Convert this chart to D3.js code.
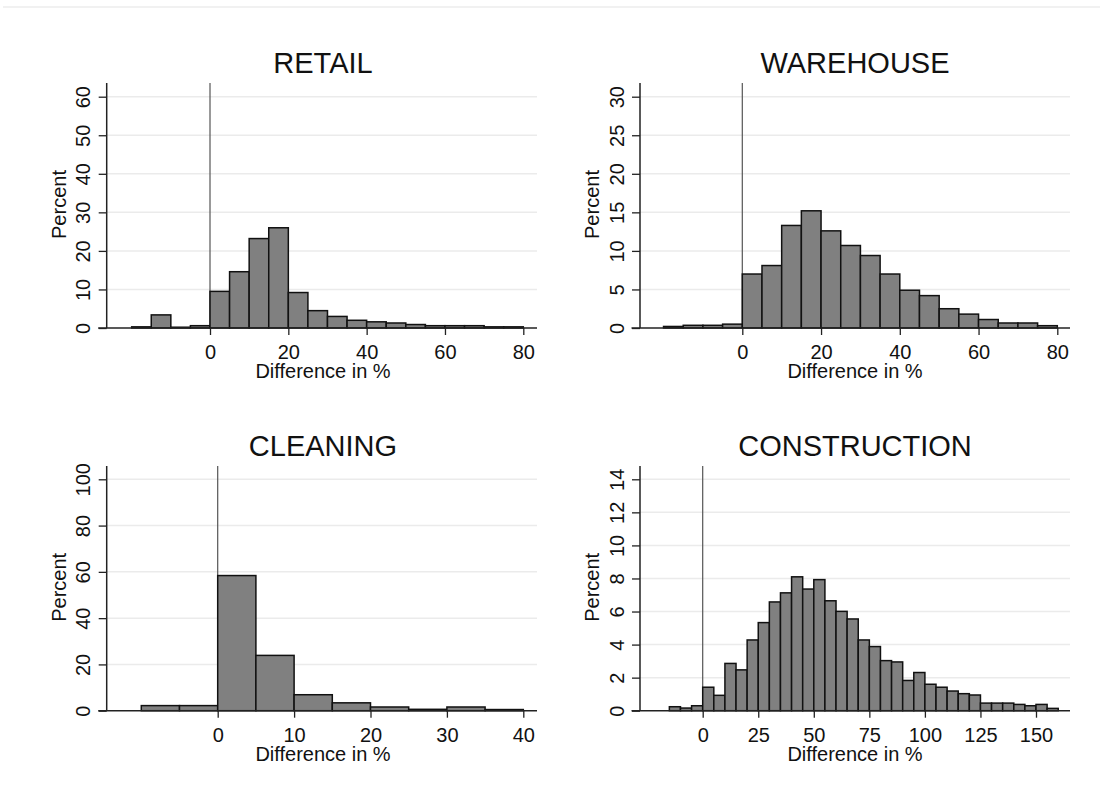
<!DOCTYPE html>
<html>
<head>
<meta charset="utf-8">
<script src="https://cdn.jsdelivr.net/npm/d3@7"></script>
<style>
  body { margin: 0; background: #fff; }
  text { font-family: "Liberation Sans", Arial, sans-serif; fill: #111; }
</style>
</head>
<body>
<div id="chart"></div>
<script>
// bins are 5 points wide, first bin starts at binStart
var binWidth = 5;

var retailStart = -20;
var retailPct = [0.3, 3.4, 0.2, 0.6, 9.5, 14.6, 23.2, 26.0, 9.2, 4.5, 3.0, 2.0, 1.6, 1.3, 0.9, 0.6, 0.6, 0.6, 0.3, 0.3];
var retailTicksX = [0, 20, 40, 60, 80];
var retailTicksY = [0, 10, 20, 30, 40, 50, 60];

var warehouseStart = -20;
var warehousePct = [0.2, 0.35, 0.35, 0.5, 7.0, 8.1, 13.3, 15.2, 12.6, 10.7, 9.4, 7.0, 4.9, 4.2, 2.5, 1.8, 1.1, 0.65, 0.65, 0.3];
var warehouseTicksX = [0, 20, 40, 60, 80];
var warehouseTicksY = [0, 5, 10, 15, 20, 25, 30];

var cleaningStart = -10;
var cleaningPct = [2.2, 2.2, 58.4, 23.9, 6.9, 3.4, 1.6, 0.6, 1.6, 0.5];
var cleaningTicksX = [0, 10, 20, 30, 40];
var cleaningTicksY = [0, 20, 40, 60, 80, 100];

var constructionStart = -15;
var constructionPct = [0.24, 0.16, 0.3, 1.42, 0.93, 2.86, 2.47, 4.28, 5.33, 6.58, 7.13, 8.1, 7.36, 7.93, 6.65, 6.01, 5.55, 4.28, 3.88, 3.03, 2.95, 1.83, 2.31, 1.6, 1.42, 1.19, 1.03, 0.95, 0.46, 0.46, 0.46, 0.38, 0.3, 0.38, 0.14];
var constructionTicksX = [0, 25, 50, 75, 100, 125, 150];
var constructionTicksY = [0, 2, 4, 6, 8, 10, 12, 14];

var svg = d3.select("#chart").append("svg")
    .attr("width", 1100)
    .attr("height", 808);

// thin rule at the top of the image
svg.append("line")
    .attr("x1", 3).attr("x2", 1100)
    .attr("y1", 7).attr("y2", 7)
    .attr("stroke", "#ececec")
    .attr("stroke-width", 1.5);

// layout of every panel (pixel anchors of the scales)
var panels = [
  {title: "RETAIL", start: retailStart, pct: retailPct, tx: retailTicksX, ty: retailTicksY,
   axisX: 106.7, right: 537, x0: 210, x1: 523.3, top: 83, base: 328, yTop: 96.7, titleX: 323},
  {title: "WAREHOUSE", start: warehouseStart, pct: warehousePct, tx: warehouseTicksX, ty: warehouseTicksY,
   axisX: 640, right: 1070, x0: 742.3, x1: 1057.3, top: 83, base: 328, yTop: 96.7, titleX: 855},
  {title: "CLEANING", start: cleaningStart, pct: cleaningPct, tx: cleaningTicksX, ty: cleaningTicksY,
   axisX: 106.7, right: 537, x0: 217.7, x1: 523.3, top: 466, base: 710.7, yTop: 479.3, titleX: 323},
  {title: "CONSTRUCTION", start: constructionStart, pct: constructionPct, tx: constructionTicksX, ty: constructionTicksY,
   axisX: 640, right: 1070, x0: 702.7, x1: 1036, top: 466, base: 710.7, yTop: 479.3, titleX: 855}
];

panels.forEach(function(p) { drawPanel(p); });

function drawPanel(p) {

  var g = svg.append("g");

  var xScale = d3.scaleLinear()
      .domain([p.tx[0], p.tx[p.tx.length - 1]])
      .range([p.x0, p.x1]);

  var yScale = d3.scaleLinear()
      .domain([0, p.ty[p.ty.length - 1]])
      .range([p.base, p.yTop]);

  // gridlines
  g.selectAll(".grid")
      .data(p.ty.slice(1))
      .enter()
      .append("line")
      .attr("x1", p.axisX).attr("x2", p.right)
      .attr("y1", function(d) { return yScale(d); })
      .attr("y2", function(d) { return yScale(d); })
      .attr("stroke", "#ebebeb")
      .attr("stroke-width", 1.5);

  // reference line at zero
  g.append("line")
      .attr("x1", xScale(0)).attr("x2", xScale(0))
      .attr("y1", p.top).attr("y2", p.base)
      .attr("stroke", "#555")
      .attr("stroke-width", 1.2);

  // bars
  g.selectAll(".bar")
      .data(p.pct)
      .enter()
      .append("rect")
      .attr("x", function(d, i) { return xScale(p.start + i * binWidth); })
      .attr("width", function(d, i) { return xScale(p.start + (i + 1) * binWidth) - xScale(p.start + i * binWidth); })
      .attr("y", function(d) { return yScale(d); })
      .attr("height", function(d) { return p.base - yScale(d); })
      .attr("fill", "#808080")
      .attr("stroke", "#111")
      .attr("stroke-width", 1.5);

  // y axis
  var yAxis = d3.axisLeft(yScale).tickValues(p.ty).tickSize(8).tickFormat(d3.format("d"));
  var ya = g.append("g")
      .attr("transform", "translate(" + [p.axisX, 0] + ")")
      .call(yAxis);
  ya.select(".domain").remove();
  ya.selectAll(".tick line").attr("stroke", "#222").attr("stroke-width", 1.3);
  ya.selectAll(".tick text")
      .attr("x", null).attr("dy", null)
      .attr("text-anchor", "middle")
      .attr("transform", "translate(-16.5,0) rotate(-90)")
      .style("font-size", "20px")
      .style("font-family", "Liberation Sans, Arial, sans-serif")
      .attr("fill", "#111");
  g.append("line")
      .attr("x1", p.axisX).attr("x2", p.axisX)
      .attr("y1", p.top).attr("y2", p.base)
      .attr("stroke", "#222")
      .attr("stroke-width", 1.5);

  // x axis
  var xAxis = d3.axisBottom(xScale).tickValues(p.tx).tickSize(7).tickFormat(d3.format("d"));
  var xa = g.append("g")
      .attr("transform", "translate(" + [0, p.base] + ")")
      .call(xAxis);
  xa.select(".domain").remove();
  xa.selectAll(".tick line").attr("stroke", "#222").attr("stroke-width", 1.3);
  xa.selectAll(".tick text")
      .attr("y", 31.3).attr("dy", null)
      .style("font-size", "20px")
      .style("font-family", "Liberation Sans, Arial, sans-serif")
      .attr("fill", "#111");
  g.append("line")
      .attr("x1", p.axisX - 8.5).attr("x2", p.right)
      .attr("y1", p.base).attr("y2", p.base)
      .attr("stroke", "#222")
      .attr("stroke-width", 1.5);

  // titles and labels
  g.append("text")
      .attr("x", p.titleX)
      .attr("y", p.base - 254.7)
      .attr("text-anchor", "middle")
      .style("font-size", "29px")
      .text(p.title);

  g.append("text")
      .attr("text-anchor", "middle")
      .attr("transform", "translate(" + [p.titleX, p.base + 50] + ")")
      .style("font-size", "20px")
      .text("Difference in %");

  g.append("text")
      .attr("text-anchor", "middle")
      .attr("transform", "translate(" + [p.axisX - 41, (p.top + p.base) / 2 - 1] + ") rotate(-90)")
      .style("font-size", "20px")
      .text("Percent");
}
</script>
</body>
</html>
